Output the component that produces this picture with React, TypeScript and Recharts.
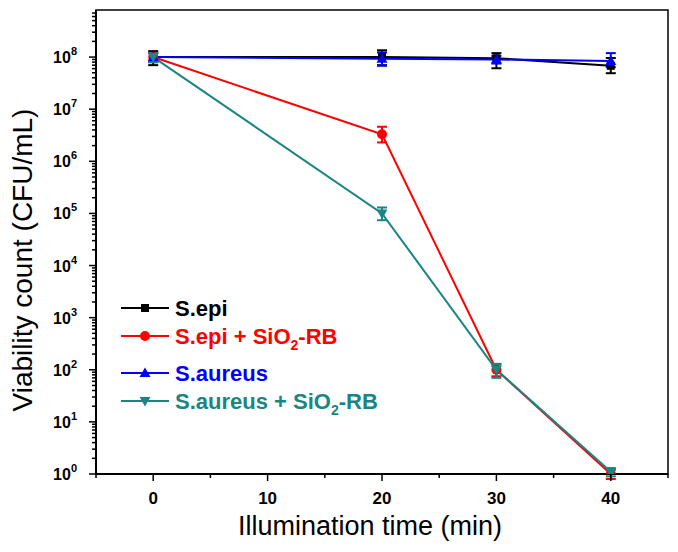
import React from "react";
import { LineChart, Line, XAxis, YAxis, ErrorBar, ReferenceArea } from "recharts";

// illumination time (min)
const times = [0, 20, 30, 40];

// viability count (CFU/mL)
const sEpi = [1e8, 1e8, 9.5e7, 6.8e7];
const sEpiRb = [1e8, 3.3e6, 1e2, 1];
const sAureus = [1e8, 9.3e7, 9e7, 8.4e7];
const sAureusRb = [1e8, 1e5, 1e2, 1.1];

// error bars as [minus, plus]
const sEpiErr = [[3e7, 3e7], [3e7, 3.5e7], [3.4e7, 2.4e7], [1.9e7, 2.8e7]];
const sEpiRbErr = [[2e7, 2e7], [1e6, 1.3e6], [25, 25], [0.2, 0.2]];
const sAureusErr = [[2e7, 2e7], [2.5e7, 3e7], [1.5e7, 1.5e7], [2e7, 3.5e7]];
const sAureusRbErr = [[2e7, 2e7], [2.6e4, 3e4], [30, 30], [0.2, 0.2]];

const xTicks = [-5, 0, 5, 10, 15, 20, 25, 30, 35, 40, 45];
const yMajor = [1, 10, 100, 1e3, 1e4, 1e5, 1e6, 1e7, 1e8];
const yTicks: number[] = [];
yMajor.forEach((m) => {
  yTicks.push(m);
  for (let k = 2; k <= 9; k++) if (m * k < 8e8) yTicks.push(m * k);
});

const data = times.map((t, i) => ({
  time: t,
  epi: sEpi[i],
  epiErr: sEpiErr[i],
  epiRb: sEpiRb[i],
  epiRbErr: sEpiRbErr[i],
  aureus: sAureus[i],
  aureusErr: sAureusErr[i],
  aureusRb: sAureusRb[i],
  aureusRbErr: sAureusRbErr[i],
}));

const FONT = "'Liberation Sans', Arial, sans-serif";
const TEAL = "#1a8585";

function markerPath(kind: string, cx: number, cy: number) {
  if (kind === "square") return `M${cx - 4},${cy - 4}h8v8h-8z`;
  if (kind === "up") return `M${cx},${cy - 5.5}L${cx + 5.5},${cy + 4}L${cx - 5.5},${cy + 4}z`;
  if (kind === "down") return `M${cx},${cy + 5.5}L${cx + 5.5},${cy - 4}L${cx - 5.5},${cy - 4}z`;
  return "";
}

function Marker({ kind, cx, cy, color }: { kind: string; cx: number; cy: number; color: string }) {
  if (kind === "circle") return <circle cx={cx} cy={cy} r={5} fill={color} />;
  return <path d={markerPath(kind, cx, cy)} fill={color} />;
}

const dotFor = (kind: string, color: string) => (p: any) => (
  <Marker key={`${kind}-${p.index}`} kind={kind} cx={p.cx} cy={p.cy} color={color} />
);

const YTick = (props: any) => {
  const { x, y, payload } = props;
  const lg = Math.log10(payload.value);
  const exp = Math.round(lg);
  const major = Math.abs(lg - exp) < 1e-6;
  return (
    <g>
      <line x1={x} x2={x - (major ? 7 : 4)} y1={y} y2={y} stroke="#000" strokeWidth={1.5} />
      {major && (
        <text x={x - 19} y={y + 6} textAnchor="end" fontFamily={FONT} fontWeight="bold" fontSize={16} fill="#000">
          <tspan>10</tspan>
          <tspan dy={-8} fontSize={11}>{exp}</tspan>
        </text>
      )}
    </g>
  );
};

const XTick = (props: any) => {
  const { x, y, payload } = props;
  const major = payload.value % 10 === 0;
  return (
    <g>
      <line x1={x} x2={x} y1={y} y2={y + (major ? 7 : 4)} stroke="#000" strokeWidth={1.5} />
      {major && (
        <text x={x} y={y + 30} textAnchor="middle" fontFamily={FONT} fontWeight="bold" fontSize={17} fill="#000">
          {payload.value}
        </text>
      )}
    </g>
  );
};

const legendRows = [
  { name: "S.epi", sub: false, color: "#000", kind: "square", y: 300 },
  { name: "S.epi + SiO", sub: true, color: "#ff0000", kind: "circle", y: 328 },
  { name: "S.aureus", sub: false, color: "#0000ff", kind: "up", y: 365 },
  { name: "S.aureus + SiO", sub: true, color: TEAL, kind: "down", y: 393 },
];

export default function App() {
  return (
    <div style={{ position: "relative", width: 670, height: 544 }}>
      <LineChart width={670} height={544} data={data} margin={{ top: 2, right: 10, left: 0, bottom: 0 }}>
        <XAxis
          dataKey="time"
          type="number"
          domain={[-5, 45]}
          ticks={xTicks}
          interval={0}
          tickSize={0}
          tickMargin={0}
          tickLine={false}
          tick={<XTick />}
          height={78}
          axisLine={{ stroke: "#000", strokeWidth: 2 }}
          label={{
            content: () => (
              <text x={362} y={527} textAnchor="middle" fontFamily={FONT} fontSize={27} fill="#000">
                Illumination time (min)
              </text>
            ),
          }}
        />
        <YAxis
          type="number"
          scale="log"
          domain={[1, 8e8]}
          allowDataOverflow
          ticks={yTicks}
          interval={0}
          tickSize={0}
          tickMargin={0}
          tickLine={false}
          tick={<YTick />}
          width={88}
          axisLine={{ stroke: "#000", strokeWidth: 2 }}
          label={{
            content: () => (
              <text
                x={24}
                y={252}
                transform="rotate(-90 24 252)"
                textAnchor="middle"
                fontFamily={FONT}
                fontSize={28}
                fill="#000"
              >
                Viability count (CFU/mL)
              </text>
            ),
          }}
        />
        <ReferenceArea x1={-5} x2={45} y1={1} y2={8e8} fill="none" stroke="#000" strokeWidth={1.5} />
        <Line dataKey="epi" stroke="#000" strokeWidth={2} isAnimationActive={false} dot={dotFor("square", "#000")}>
          <ErrorBar dataKey="epiErr" width={5} strokeWidth={2} stroke="#000" direction="y" />
        </Line>
        <Line dataKey="epiRb" stroke="#ff0000" strokeWidth={2} isAnimationActive={false} dot={dotFor("circle", "#ff0000")}>
          <ErrorBar dataKey="epiRbErr" width={5} strokeWidth={2} stroke="#ff0000" direction="y" />
        </Line>
        <Line dataKey="aureus" stroke="#0000ff" strokeWidth={2} isAnimationActive={false} dot={dotFor("up", "#0000ff")}>
          <ErrorBar dataKey="aureusErr" width={5} strokeWidth={2} stroke="#0000ff" direction="y" />
        </Line>
        <Line dataKey="aureusRb" stroke={TEAL} strokeWidth={2} isAnimationActive={false} dot={dotFor("down", TEAL)}>
          <ErrorBar dataKey="aureusRbErr" width={5} strokeWidth={2} stroke={TEAL} direction="y" />
        </Line>
      </LineChart>
      <svg width={670} height={544} style={{ position: "absolute", left: 0, top: 0, pointerEvents: "none" }}>
        {legendRows.map((r) => (
          <g key={r.name}>
            <line x1={113} x2={161} y1={r.y} y2={r.y} stroke={r.color} strokeWidth={2} />
            <Marker kind={r.kind} cx={137} cy={r.y} color={r.color} />
            <text x={167} y={r.y + 8} fontFamily={FONT} fontWeight="bold" fontSize={22} fill={r.color}>
              {r.name}
              {r.sub && (
                <>
                  <tspan dy={6} fontSize={14}>2</tspan>
                  <tspan dy={-6}>-RB</tspan>
                </>
              )}
            </text>
          </g>
        ))}
      </svg>
    </div>
  );
}
